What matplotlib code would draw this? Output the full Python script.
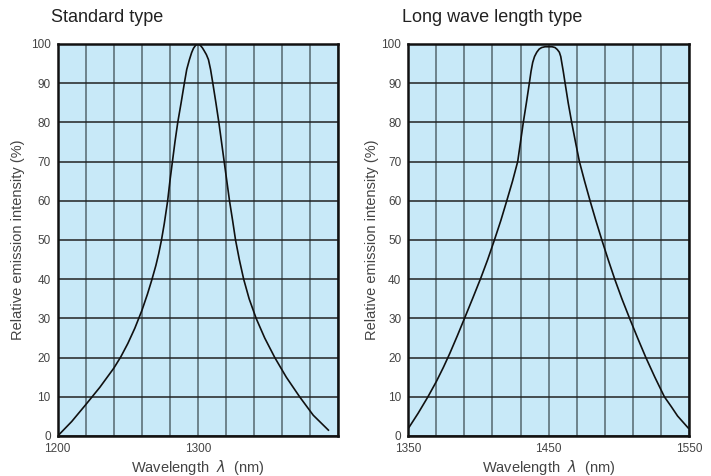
import matplotlib.pyplot as plt
import numpy as np

# Standard type spectrum (wavelength nm, relative intensity %)
std_wl = [1200, 1210, 1220, 1230, 1240, 1245, 1250, 1255, 1260, 1264, 1267, 1270,
          1272, 1274, 1276, 1278.4, 1280, 1281.8, 1283.6, 1285.6, 1288, 1290.3, 1292,
          1293.9, 1295.5, 1296.8, 1298.5, 1300, 1301.5, 1303.2, 1304.4, 1306, 1307.5,
          1309, 1310.6, 1312.8, 1314.9, 1316.8, 1318.7, 1320.6, 1322.5, 1324.7,
          1326.8, 1329.5, 1332.6, 1336.5, 1341.5, 1347.6, 1354.8, 1363, 1372.5,
          1382.2, 1393]
std_int = [0, 3.7, 8, 12.4, 17.3, 20.2, 23.6, 27.5, 32, 36.2, 39.7, 43.5,
           46.5, 50, 54.2, 60, 65, 70, 75, 80, 85, 90, 93.5,
           96, 97.8, 98.9, 99.75, 100, 99.75, 99, 98.3, 97.3, 96,
           93.5, 90, 85, 80, 75, 70, 65, 60, 55,
           50, 45, 40, 35, 30, 25, 20, 15, 10,
           5.3, 1.5]

# Long wave length type spectrum
long_wl = [1350.5, 1357, 1364, 1370, 1375, 1379.5, 1385, 1390.4, 1396, 1401.8, 1406.6,
           1411.4, 1416, 1420.2, 1424.3, 1428, 1430, 1432, 1434.2, 1436.3, 1437.5,
           1438.7, 1440, 1441.6, 1443.3, 1445.1, 1447.5, 1450, 1452.5, 1454.6, 1456.2,
           1457.7, 1458.7, 1459.4, 1460.5, 1461.8, 1464, 1466.5, 1469.2, 1472, 1475.7,
           1479.6, 1483.7, 1488, 1492.5, 1497.2, 1502.3, 1507.8, 1513.5, 1519.4, 1525.8,
           1532.6, 1537.5, 1542, 1549.7]
long_int = [2.2, 5.8, 10, 13.9, 17.5, 21, 25.6, 30.3, 35.2, 40.4, 45,
            50, 55, 60, 65, 70, 75, 80, 85, 90, 93,
            95.3, 96.8, 97.9, 98.7, 99.1, 99.3, 99.3, 99.3, 99.1, 98.6,
            97.9, 96.8, 95.3, 93, 90, 85, 80, 75, 70, 65,
            60, 55, 50, 45, 40, 35, 30, 25, 20, 15,
            10, 7.5, 5.1, 2]

panels = [
    ("Standard type", std_wl, std_int, (1200, 1400), [1200, 1300]),
    ("Long wave length type", long_wl, long_int, (1350, 1550), [1350, 1450, 1550]),
]

text_col = '#444444'
plt.rcParams['font.family'] = ['Liberation Sans', 'DejaVu Sans']

fig = plt.figure(figsize=(7.11, 4.76), dpi=100)
fig.patch.set_facecolor('white')

lefts = [57.7 / 711, 408.3 / 711]
title_x = [50.7 / 711, 401.7 / 711]
ylab_x = [-33 / 280.5, -29.5 / 280.5]

for i, (title, wl, inten, xlim, xlabels) in enumerate(panels):
    ax = fig.add_axes([lefts[i], 40 / 476, 280.5 / 711, 392 / 476])
    ax.set_facecolor('#c8e9f8')
    ax.set_xlim(*xlim)
    ax.set_ylim(0, 100)

    # grid every 20 nm / 10 %
    xt = np.arange(xlim[0], xlim[1] + 1, 20)
    ax.set_xticks(xt)
    ax.set_xticklabels([str(v) if v in xlabels else '' for v in xt])
    ax.set_yticks(np.arange(0, 101, 10))
    ax.grid(True, axis='x', color='#55676e', linewidth=1.1)
    ax.grid(True, axis='y', color='#222222', linewidth=1.1)
    ax.set_axisbelow(True)

    ax.plot(wl, inten, color='#111111', linewidth=1.2)

    for s in ax.spines.values():
        s.set_linewidth(1.8)
        s.set_color('#111111')

    ax.tick_params(length=0, labelsize=8.5, labelcolor=text_col, pad=5)
    ax.set_xlabel('Wavelength  $\\lambda$  (nm)', fontsize=10.5, color=text_col, labelpad=2)
    ax.set_ylabel('Relative emission intensity (%)', fontsize=10.5, color=text_col)
    ax.yaxis.set_label_coords(ylab_x[i], 0.5)

    fig.text(title_x[i], 1 - 18 / 476, title, fontsize=13, color='#222222',
             ha='left', va='center')

plt.savefig('out.png', dpi=100, facecolor='white')
